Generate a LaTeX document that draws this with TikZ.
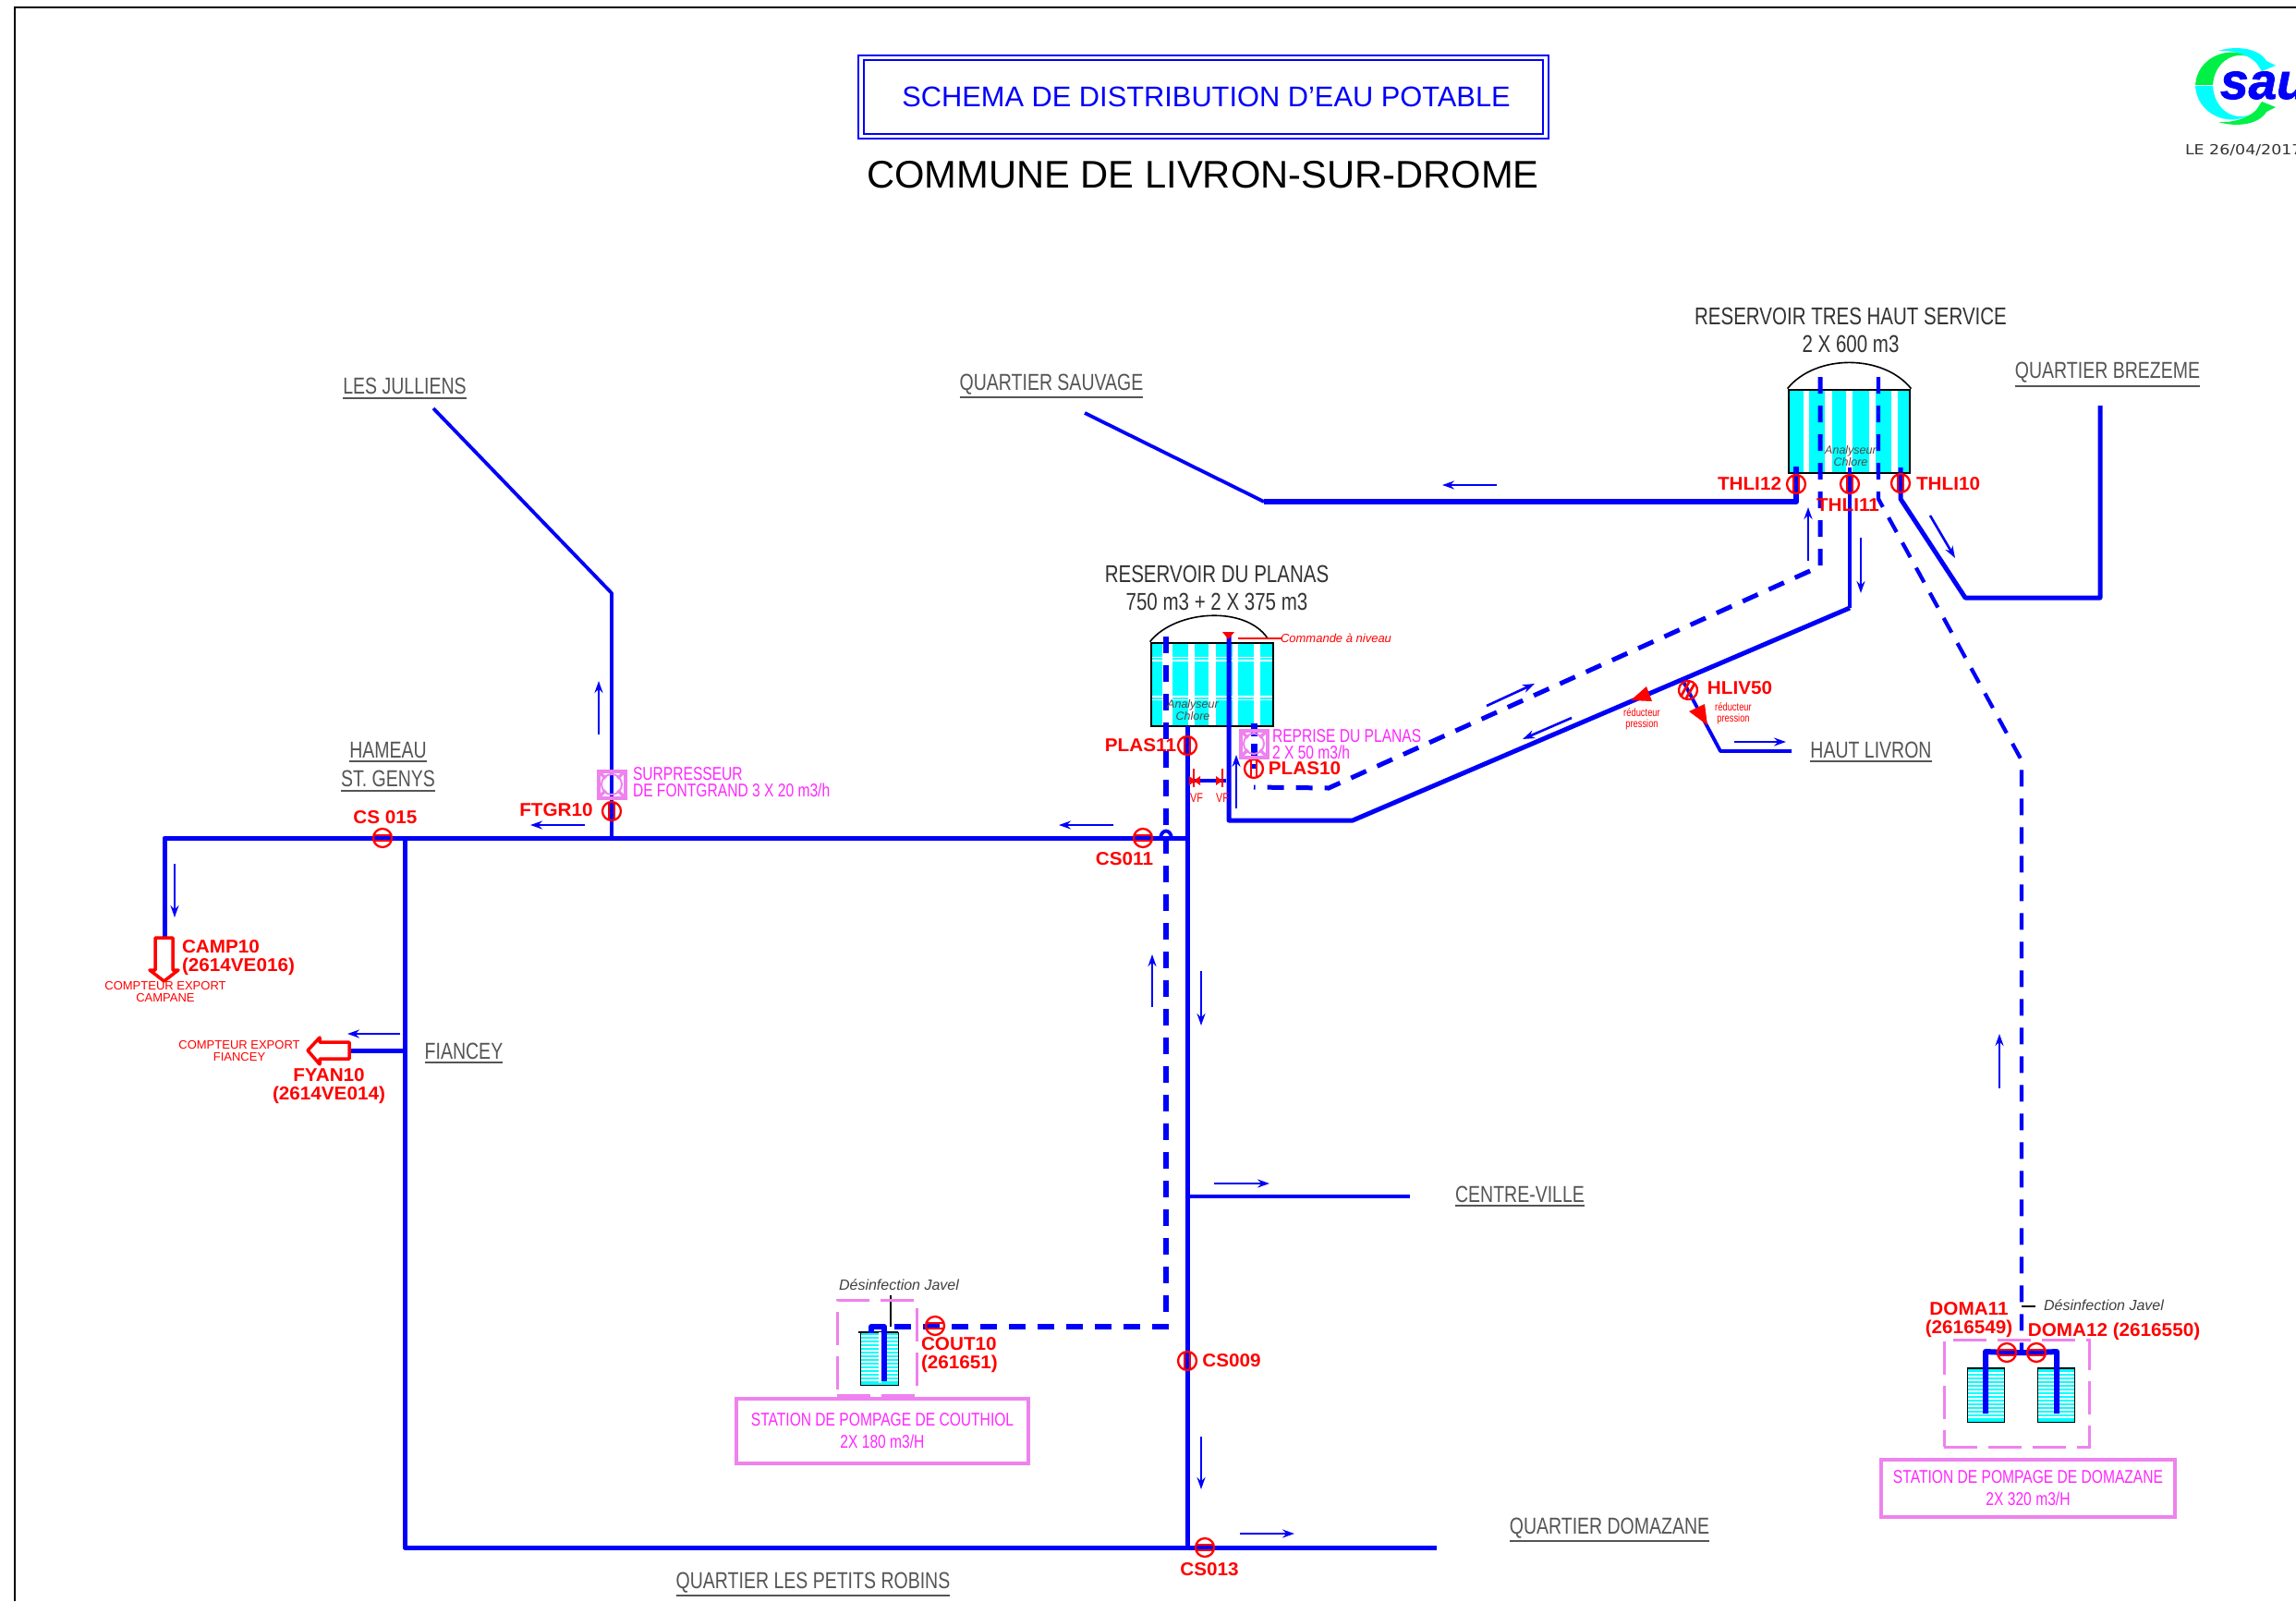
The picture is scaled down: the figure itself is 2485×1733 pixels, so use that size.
\documentclass[tikz,border=0pt]{standalone}
\usepackage{fontspec}
\setmainfont{Liberation Sans}[BoldItalicFeatures={FakeBold=1.5}]
\newfontfamily\narrowf[FakeStretch=0.78]{Liberation Sans}
\newfontfamily\widef[FakeStretch=1.16]{DejaVu Sans}
\newfontfamily\redf[FakeStretch=1.035]{Liberation Sans}
\usetikzlibrary{arrows.meta,backgrounds}
\pgfdeclarelayer{tanks}\pgfdeclarelayer{pipes}
\pgfsetlayers{tanks,pipes,main}
\definecolor{pipeblue}{RGB}{0,0,250}
\definecolor{pinkline}{RGB}{238,130,238}
\definecolor{magtext}{RGB}{255,40,255}
\definecolor{redtext}{RGB}{255,0,0}
\definecolor{graytext}{RGB}{85,85,85}
\definecolor{tankcyan}{RGB}{0,255,255}
\definecolor{logogreen}{RGB}{0,240,70}
\newcommand\fs[1]{\fontsize{#1}{#1}\selectfont}
\newcommand\ulbl[1]{\vtop{\hbox{#1}\kern2.5pt\hrule height 2pt}}
\newcommand\flowarr[3]{\coordinate (#1s) at (#2);\coordinate (#1e) at (#3);\draw[flow] (#1s) -- (#1e);}
\tikzset{
  txt/.style={inner sep=0pt,outer sep=0pt,align=center},
  redlbl/.style={txt,text=redtext,font=\redf\bfseries\fs{20}},
  redsmall/.style={txt,text=redtext,font=\fs{13}},
  redtiny/.style={txt,text=redtext,font=\narrowf\fontsize{12}{12}\selectfont},
  graylbl/.style={txt,text=graytext,font=\narrowf\fs{25}},
  blacklbl/.style={txt,text=black!80,font=\narrowf\fontsize{26.3}{30}\selectfont},
  maglbl/.style={txt,text=magtext,font=\narrowf\fontsize{20}{18}\selectfont,align=left},
  ital/.style={txt,text=black!75,font=\itshape\fs{16}},
  pipe/.style={draw=pipeblue,line width=5pt,line join=round},
  pipefat/.style={draw=pipeblue,line width=6.5pt,line join=round},
  pipethin/.style={draw=pipeblue,line width=3.8pt,line join=round},
  pipedash/.style={draw=pipeblue,line width=5pt,dash pattern=on 18pt off 13pt},
  flow/.style={draw=pipeblue,line width=2.6pt,-{Stealth[length=13pt,width=9pt]}},
  valveV/.style={circle,draw=redtext,line width=2.3pt,minimum size=20pt,inner sep=0pt,
    path picture={\draw[redtext,line width=2.8pt]
      ([xshift=-3pt,yshift=12pt]path picture bounding box.center) -- ++(0,24)
      ([xshift=3pt,yshift=12pt]path picture bounding box.center) -- ++(0,24);}},
  valveH/.style={circle,draw=redtext,line width=2.3pt,minimum size=20pt,inner sep=0pt,
    path picture={\draw[redtext,line width=2.8pt]
      ([xshift=-12pt,yshift=-3pt]path picture bounding box.center) -- ++(24,0)
      ([xshift=-12pt,yshift=3pt]path picture bounding box.center) -- ++(24,0);}},
  pumpsq/.style={rectangle,draw=pinkline,line width=4pt,minimum size=29pt,inner sep=0pt,
    path picture={\draw[pinkline,line width=2pt] (path picture bounding box.center) circle[radius=11pt];
      \draw[pinkline,line width=3.5pt] (path picture bounding box.north west) -- +(8,8)
      (path picture bounding box.north east) -- +(-8,8)
      (path picture bounding box.south west) -- +(8,-8)
      (path picture bounding box.south east) -- +(-8,-8);}},
  stationbox/.style={rectangle,draw=pinkline,line width=4.5pt,inner sep=0pt,text=magtext,align=center,
    font=\narrowf\fontsize{20}{23}\selectfont},
  stationzone/.style={rectangle,draw=pinkline,line width=3pt,dash pattern=on 36pt off 12pt,inner sep=0pt},
  tankborder/.style={rectangle,draw=black,inner sep=0pt},
  exportarrow/.style={draw=redtext,line width=3.5pt,fill=white,line join=round},
}
\begin{document}
\begin{tikzpicture}[x=1pt,y=-1pt]
\useasboundingbox (0,0) rectangle (2485,1733);
\begin{pgfonlayer}{tanks}
\fill[white] (0,0) rectangle (2485,1733);
\end{pgfonlayer}
\coordinate (frameA) at (16,1733);\coordinate (frameB) at (16,8);\coordinate (frameC) at (2485,8);
\draw[black,line width=2.5pt] (frameA) -- (frameB) -- (frameC);

% titles
\node[rectangle,draw=pipeblue,line width=2pt,double=white,double distance=3.5pt,minimum width=741pt,minimum height=85pt,
  inner sep=0pt,font=\fs{30.8}] (titleBox) at (1302.5,105) {\raisebox{-1.5pt}{\textcolor{pipeblue}{\hspace{6pt}SCHEMA DE DISTRIBUTION D'EAU POTABLE}}};
\node[txt,text=black,font=\fs{41.7}] (subTitle) at (1302,189.5) {COMMUNE DE LIVRON-SUR-DROME};

% logo
\fill[logogreen] (2376,92) .. controls (2378,62) and (2412,48) .. (2436,62) .. controls (2415,54) and (2396,70) .. (2395,92) -- cycle;
\fill[tankcyan] (2376,93) .. controls (2378,124) and (2412,138) .. (2436,124) .. controls (2415,132) and (2396,116) .. (2395,93) -- cycle;
\fill[tankcyan] (2401,55) .. controls (2420,49) and (2445,52) .. (2453,66) -- (2463,71) -- (2448,77) -- (2442,68) .. controls (2432,58) and (2415,54) .. (2401,55) -- cycle;
\fill[logogreen] (2401,132) .. controls (2420,138) and (2445,135) .. (2453,121) -- (2463,116) -- (2448,110) -- (2442,119) .. controls (2432,129) and (2415,133) .. (2401,132) -- cycle;
\node[txt,anchor=base west,text=pipeblue,font=\bfseries\itshape\fs{55}] (logoText) at (2403,107) {saur};
\node[txt,anchor=west,text=black!80,font=\widef\fs{15}] (dateText) at (2365,163) {LE 26/04/2017};

% valves
\node[valveV] (thli12) at (1944,524) {};
\node[valveV] (thli11) at (2002,524) {};
\node[valveV] (thli10) at (2057,523) {};
\node[valveV] (plas11) at (1285,807) {};
\node[valveV] (plas10) at (1357,832) {};
\node[valveV] (ftgr10) at (662,878) {};
\node[valveV] (cs009) at (1285,1473) {};
\node[valveH] (cs011) at (1237,907) {};
\node[valveH] (cs015) at (414,907) {};
\node[valveH] (cs013) at (1304,1675) {};
\node[valveH] (cout10) at (1012,1435) {};
\node[valveH] (doma11) at (2172,1464) {};
\node[valveH] (doma12) at (2204,1464) {};
\node[valveV,rotate=-30] (hliv50) at (1827,747) {};

% pump symbols
\node[pumpsq] (surpSq) at (662,849) {};
\node[pumpsq] (repriseSq) at (1357,805) {};

% tanks
\begin{pgfonlayer}{tanks}
  % tres haut service
  \fill[tankcyan] (1936,422) rectangle (2067,512);
  \foreach \a/\b in {1952/1958,1975/1983,1998/2005,2023/2030,2047/2054}
    \fill[white] (\a,423) rectangle (\b,511);
  \node[tankborder,line width=2.8pt,minimum width=131pt,minimum height=90pt] (thsTank) at (2001.5,467) {};
  \draw[black,line width=1.6pt] (thsTank.north west) .. controls (1965,383) and (2038,383) .. (thsTank.north east);
  % planas
  \fill[tankcyan] (1246,696) rectangle (1378,786);
  \foreach \a/\b in {1258/1269,1286/1293,1308/1316,1334/1340,1357/1364}
    \fill[white] (\a,697) rectangle (\b,785);
  \foreach \a in {711.5,715,754,757.5}
    \draw[white,line width=1.2pt] (1247,\a) -- (1377,\a);
  \node[tankborder,line width=2.8pt,minimum width=132pt,minimum height=90pt] (plaTank) at (1312,741) {};
  \draw[black,line width=1.6pt] (plaTank.north west) .. controls (1272,660) and (1348,655) .. (1372,691);
  % couthiol
  \fill[tankcyan] (931,1442) rectangle (972,1499);
  \foreach \a in {1446,1450,...,1496}
    \draw[white,line width=1.3pt] (931,\a) -- (972,\a);
  \node[tankborder,line width=1pt,minimum width=41pt,minimum height=57pt] (couTank) at (951.5,1470.5) {};
  \draw[black,line width=2.5pt] (929,1442) -- (972,1442);
  % domazane
  \foreach \x/\n in {2129/domaTankL,2205/domaTankR}{
    \fill[tankcyan] (\x,1481) rectangle (\x+40,1539);
    \foreach \a in {1486,1490,...,1536}
      \draw[white,line width=1.3pt] (\x,\a) -- (\x+40,\a);
    \node[tankborder,line width=1pt,minimum width=40pt,minimum height=58pt] (\n) at (\x+20,1510) {};
    \draw[black,line width=2.5pt] (\x,1481) -- (\x+41,1481);
  }
\end{pgfonlayer}

% pipes
\begin{pgfonlayer}{pipes}
  % tres haut service
  \coordinate (t12top) at (1944,505);\coordinate (t12c) at (1944,543);\coordinate (sauvA) at (1368,543);\coordinate (sauvB) at (1174,447);
  \draw[pipefat] (t12top) -- (thli12.center) -- (t12c) -- (sauvA);
  \draw[pipethin] (sauvA) -- (sauvB);
  \coordinate (t11top) at (2002,506);\coordinate (t11c) at (2002,658);\coordinate (t11d) at (1464,888);\coordinate (t11e) at (1330,888);\coordinate (t11f) at (1330,686);
  \draw[pipethin] (t11top) -- (thli11.center) -- (t11c);
  \draw[pipe] (t11c) -- (t11d) -- (t11e) -- (t11f);
  \coordinate (t10top) at (2057,506);\coordinate (t10c) at (2057,540);\coordinate (brezA) at (2127,647);\coordinate (brezB) at (2273,647);\coordinate (brezC) at (2273,439);
  \draw[pipe] (t10top) -- (thli10.center) -- (t10c) -- (brezA) -- (brezB) -- (brezC);
  % dashed
  \coordinate (dLtop) at (1970,408);\coordinate (dLbot) at (1970,613);\coordinate (dLcorner) at (1438,853);\coordinate (dLend) at (1357,852);
  \draw[pipedash] (dLtop) -- (dLbot) -- (dLcorner) -- (dLend);
  \coordinate (reprTop) at (1357,783);
  \draw[pipe,line width=7pt,dash pattern=on 14pt off 8pt] (reprTop) -- (plas10.center);
  \coordinate (dRtop) at (2033,408);\coordinate (dRb) at (2033,540);\coordinate (dRc) at (2188,823);\coordinate (dRd) at (2188,1464);
  \draw[pipedash,line width=4.2pt] (dRtop) -- (dRb) -- (dRc) -- (dRd);
  \coordinate (plaDtop) at (1262,689);\coordinate (plaDbot) at (1262,1436);\coordinate (couDend) at (964,1436);
  \draw[pipedash,line width=6pt] (plaDtop) -- (plaDbot) -- (couDend);
  % main network
  \coordinate (mainTop) at (1285,786);\coordinate (mainJ) at (1285,907);\coordinate (mainBot) at (1285,1675);
  \draw[pipe] (mainTop) -- (plas11.center) -- (mainJ) -- (cs009.center) -- (mainBot);
  \coordinate (mainL) at (178,907);\coordinate (campIn) at (178,1015);
  \draw[pipe] (mainJ) -- (mainL) -- (campIn);
  \coordinate (fiaT) at (438,907);\coordinate (fiaB) at (438,1675);\coordinate (domE) at (1555,1675);
  \draw[pipe] (fiaT) -- (fiaB) -- (domE);
  \coordinate (fyanJ) at (438,1137);\coordinate (fyanE) at (378,1137);
  \draw[pipe] (fyanJ) -- (fyanE);
  \coordinate (ftgrJ) at (662,907);\coordinate (julA) at (662,642);\coordinate (julB) at (469,442);
  \draw[pipethin] (ftgrJ) -- (ftgr10.center) -- (julA) -- (julB);
  \coordinate (centreJ) at (1285,1295);\coordinate (centreE) at (1526,1295);
  \draw[pipethin] (centreJ) -- (centreE);
  \coordinate (bumpL) at (1256,907);\coordinate (bumpR) at (1268,907);
  \draw[pipethin] (bumpL) .. controls (1257,897) and (1267,897) .. (bumpR);
  % haut livron
  \coordinate (hlivJ) at (1822,738);\coordinate (hlivC) at (1862,813);\coordinate (hlivE) at (1939,813);
  \draw[pipethin] (hlivJ) -- (hlivC) -- (hlivE);
  % reprise cross link
  \coordinate (vfL) at (1287,845);\coordinate (vfR) at (1327,845);
  \draw[pipethin] (vfL) -- (vfR);
  % couthiol pump
  \coordinate (couA) at (957,1495);\coordinate (couB) at (957,1436);\coordinate (couC) at (943,1436);\coordinate (couD) at (943,1443);
  \draw[pipe,line width=6pt] (couA) -- (couB) -- (couC) -- (couD);
  % domazane pumps
  \coordinate (domL) at (2149,1530);\coordinate (domLt) at (2149,1463);\coordinate (domRt) at (2226,1463);\coordinate (domR) at (2226,1530);
  \draw[pipe,line width=6pt] (domL) -- (domLt) -- (doma11.center) -- (doma12.center) -- (domRt) -- (domR);
\end{pgfonlayer}

% white slit of the Couthiol pump
\coordinate (couSlitA) at (952,1442);\coordinate (couSlitB) at (952,1497);
\draw[white,line width=3pt] (couSlitA) -- (couSlitB);

% javel feeds and level command
\coordinate (javA) at (964,1402);\coordinate (javB) at (964,1436);
\draw[black,line width=2.8pt] (javA) -- (javB);
\coordinate (javC) at (2188,1414);\coordinate (javD) at (2203,1414);
\draw[black,line width=2.8pt] (javC) -- (javD);
\coordinate (cmdA) at (1340,691);\coordinate (cmdB) at (1387,691);
\draw[redtext,line width=2.8pt] (cmdA) -- (cmdB);
\fill[redtext] (1323,684) -- (1336,684) -- (1329.5,692) -- cycle;

% export meters
\draw[exportarrow] (168,1015) -- (187,1015) -- (187,1050) -- (193,1050) -- (177.5,1062) -- (162,1050) -- (168,1050) -- cycle;
\draw[exportarrow] (378,1128) -- (378,1146) -- (346,1146) -- (346,1152) -- (333,1137) -- (346,1123) -- (346,1128) -- cycle;

% pressure reducers
\fill[redtext] (1765,758) -- (1782,743) -- (1788,759) -- cycle;
\fill[redtext] (1828,770) -- (1845,762) -- (1848,785) -- cycle;

% check valves
\draw[redtext,line width=1.2pt] (1292,832) -- (1292,852) (1323,832) -- (1323,852);
\fill[redtext] (1287,840) -- (1287,850) -- (1294,845) -- cycle (1299,840) -- (1299,850) -- (1292,845) -- cycle;
\fill[redtext] (1316,840) -- (1316,850) -- (1323,845) -- cycle;
\node[txt,text=redtext,font=\narrowf\fs{14}] (vf1) at (1295,864) {VF};
\node[txt,text=redtext,font=\narrowf\fs{14}] (vf2) at (1323,864) {VF};

% station boxes
\node[stationzone,minimum width=86pt,minimum height=103pt] (couZone) at (949,1458.5) {};
\node[stationzone,minimum width=157pt,minimum height=116pt] (domZone) at (2182.5,1508) {};
\node[stationbox,minimum width=316pt,minimum height=70pt] (couBox) at (955,1549) {\raisebox{-2pt}{STATION DE POMPAGE DE COUTHIOL}\\[1pt]\raisebox{-2pt}{2X 180 m3/H}};
\node[stationbox,minimum width=318pt,minimum height=62pt] (domBox) at (2195,1611) {\raisebox{-2pt}{STATION DE POMPAGE DE DOMAZANE}\\[1pt]\raisebox{-2pt}{2X 320 m3/H}};

% flow arrows
\flowarr{fa}{1620,525}{1561,525}
\flowarr{fb}{1957,607}{1957,549}
\flowarr{fc}{2014,582}{2014,642}
\flowarr{fd}{2089,558}{2116,604}
\flowarr{fe}{1609,764}{1661,740}
\flowarr{ff}{1701,777}{1648,800}
\flowarr{fg}{1877,803}{1933,803}
\flowarr{fh}{1338,875}{1338,817}
\flowarr{fi}{1205,893}{1146,893}
\flowarr{fj}{633,893}{574,893}
\flowarr{fk}{648,795}{648,737}
\flowarr{fl}{189,935}{189,993}
\flowarr{fm}{433,1119}{376,1119}
\flowarr{fn}{1314,1281}{1374,1281}
\flowarr{fo}{1247,1090}{1247,1033}
\flowarr{fp}{1300,1051}{1300,1110}
\flowarr{fq}{1300,1555}{1300,1612}
\flowarr{fr}{1342,1660}{1401,1660}
\flowarr{fs}{2164,1178}{2164,1119}

% black labels
\node[blacklbl] (lblThs) at (2003,357) {RESERVOIR TRES HAUT SERVICE\\2 X 600 m3};
\node[blacklbl] (lblPla) at (1317,636) {RESERVOIR DU PLANAS\\750 m3 + 2 X 375 m3};
\node[txt,text=black!70,font=\itshape\fontsize{12.5}{13}\selectfont] (anaThs) at (2003,494) {Analyseur\\Chlore};
\node[txt,text=black!70,font=\itshape\fontsize{12.5}{13}\selectfont] (anaPla) at (1291,769) {Analyseur\\Chlore};
\node[ital] (javCou) at (973,1391) {Désinfection Javel};
\node[ital] (javDom) at (2277,1413) {Désinfection Javel};

% gray labels
\node[graylbl] (lJul) at (438,420.5) {\ulbl{LES JULLIENS}};
\node[graylbl] (lSau) at (1138,418) {\ulbl{QUARTIER SAUVAGE}};
\node[graylbl] (lBre) at (2281,405.5) {\ulbl{QUARTIER BREZEME}};
\node[graylbl] (lHam) at (420,814.5) {\ulbl{HAMEAU}};
\node[graylbl] (lGen) at (420,845.5) {\ulbl{ST. GENYS}};
\node[graylbl] (lFia) at (502,1140) {\ulbl{FIANCEY}};
\node[graylbl] (lHau) at (2025,814) {\ulbl{HAUT LIVRON}};
\node[graylbl] (lCen) at (1645,1295) {\ulbl{CENTRE-VILLE}};
\node[graylbl] (lDom) at (1742,1656) {\ulbl{QUARTIER DOMAZANE}};
\node[graylbl] (lRob) at (880,1715) {\ulbl{QUARTIER LES PETITS ROBINS}};

% red labels
\node[redlbl,anchor=east] (tT12) at (1928,524) {THLI12};
\node[redlbl] (tT11) at (2000,547) {THLI11};
\node[redlbl,anchor=west] (tT10) at (2074,524) {THLI10};
\node[redlbl,anchor=east] (tP11) at (1273,807) {PLAS11};
\node[redlbl] (tP10) at (1412,832) {PLAS10};
\node[redlbl] (tHl) at (1883,745) {HLIV50};
\node[redlbl] (tF) at (602,877) {FTGR10};
\node[redlbl] (tC15) at (417,885) {CS 015};
\node[redlbl] (tC11) at (1217,930) {CS011};
\node[redlbl] (tC09) at (1333,1473) {CS009};
\node[redlbl] (tC13) at (1309,1699) {CS013};
\node[redlbl,align=left,anchor=west] (tCamp) at (197,1037) {CAMP10\\(2614VE016)};
\node[redlbl] (tFyan) at (356,1176) {FYAN10\\(2614VE014)};
\node[redlbl,align=left,anchor=west] (tCout) at (997,1467) {COUT10\\(261651)};
\node[redlbl] (tD11) at (2131,1429) {DOMA11\\(2616549)};
\node[redlbl] (tD12) at (2288,1441) {DOMA12 (2616550)};
\node[redsmall] (tCompA) at (179,1074) {COMPTEUR EXPORT\\CAMPANE};
\node[redsmall] (tCompB) at (259,1138) {COMPTEUR EXPORT\\FIANCEY};
\node[redtiny] (tRedA) at (1777,778) {réducteur\\pression};
\node[redtiny] (tRedB) at (1876,772) {réducteur\\pression};
\node[txt,text=redtext,font=\itshape\fs{13}] (tCmd) at (1446,691) {Commande à niveau};

% magenta labels
\node[maglbl,anchor=west] (tSurp) at (685,847) {SURPRESSEUR\\DE FONTGRAND 3 X 20 m3/h};
\node[maglbl,anchor=west] (tRepr) at (1377,806) {REPRISE DU PLANAS\\2 X 50 m3/h};
\end{tikzpicture}
\end{document}
